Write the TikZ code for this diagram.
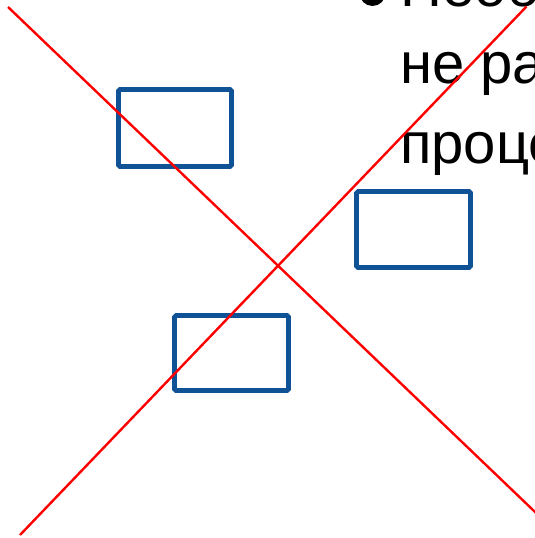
\documentclass[tikz,border=0pt]{standalone}
\usepackage{fontspec}
\setmainfont{Liberation Sans}
\definecolor{boxblue}{RGB}{16,82,150}
\definecolor{crossred}{RGB}{255,0,0}
\begin{document}
\begin{tikzpicture}[x=1pt,y=-1pt,
  bluebox/.style={draw=boxblue,line width=4.6pt,rounded corners=1.5pt},
  redline/.style={draw=crossred,line width=2.4pt},
  slidetext/.style={anchor=base west,inner sep=0pt,font=\fontsize{58}{70}\selectfont,text=black}]
\useasboundingbox (0,0) rectangle (535,538);
\clip (0,0) rectangle (535,538);
\fill[white] (0,0) rectangle (535,538);
% text
\node[circle,fill=black,minimum size=26pt,inner sep=0pt] (bullet) at (372.5,-7) {};
\node[slidetext] (t1) at (400,6) {Необходимо};
\node[slidetext] (t2) at (400,83) {не разрывать};
\node[slidetext] (t3) at (400,163) {процесс};
% boxes
\draw[bluebox] (118.5,89.5) rectangle (231.5,166.5);
\node[inner sep=0pt] (b1) at (175,128) {};
\draw[bluebox] (356.5,191.5) rectangle (470.5,267.5);
\node[inner sep=0pt] (b2) at (413.5,229.5) {};
\draw[bluebox] (174.5,315.5) rectangle (288.5,390.5);
\node[inner sep=0pt] (b3) at (231.5,353) {};
% red cross
\coordinate (l1a) at (8,7);
\coordinate (l1b) at (545,521.5);
\coordinate (l2a) at (20,535);
\coordinate (l2b) at (526.5,6.5);
\draw[redline] (l1a) -- (l1b);
\draw[redline] (l2a) -- (l2b);
\end{tikzpicture}
\end{document}
